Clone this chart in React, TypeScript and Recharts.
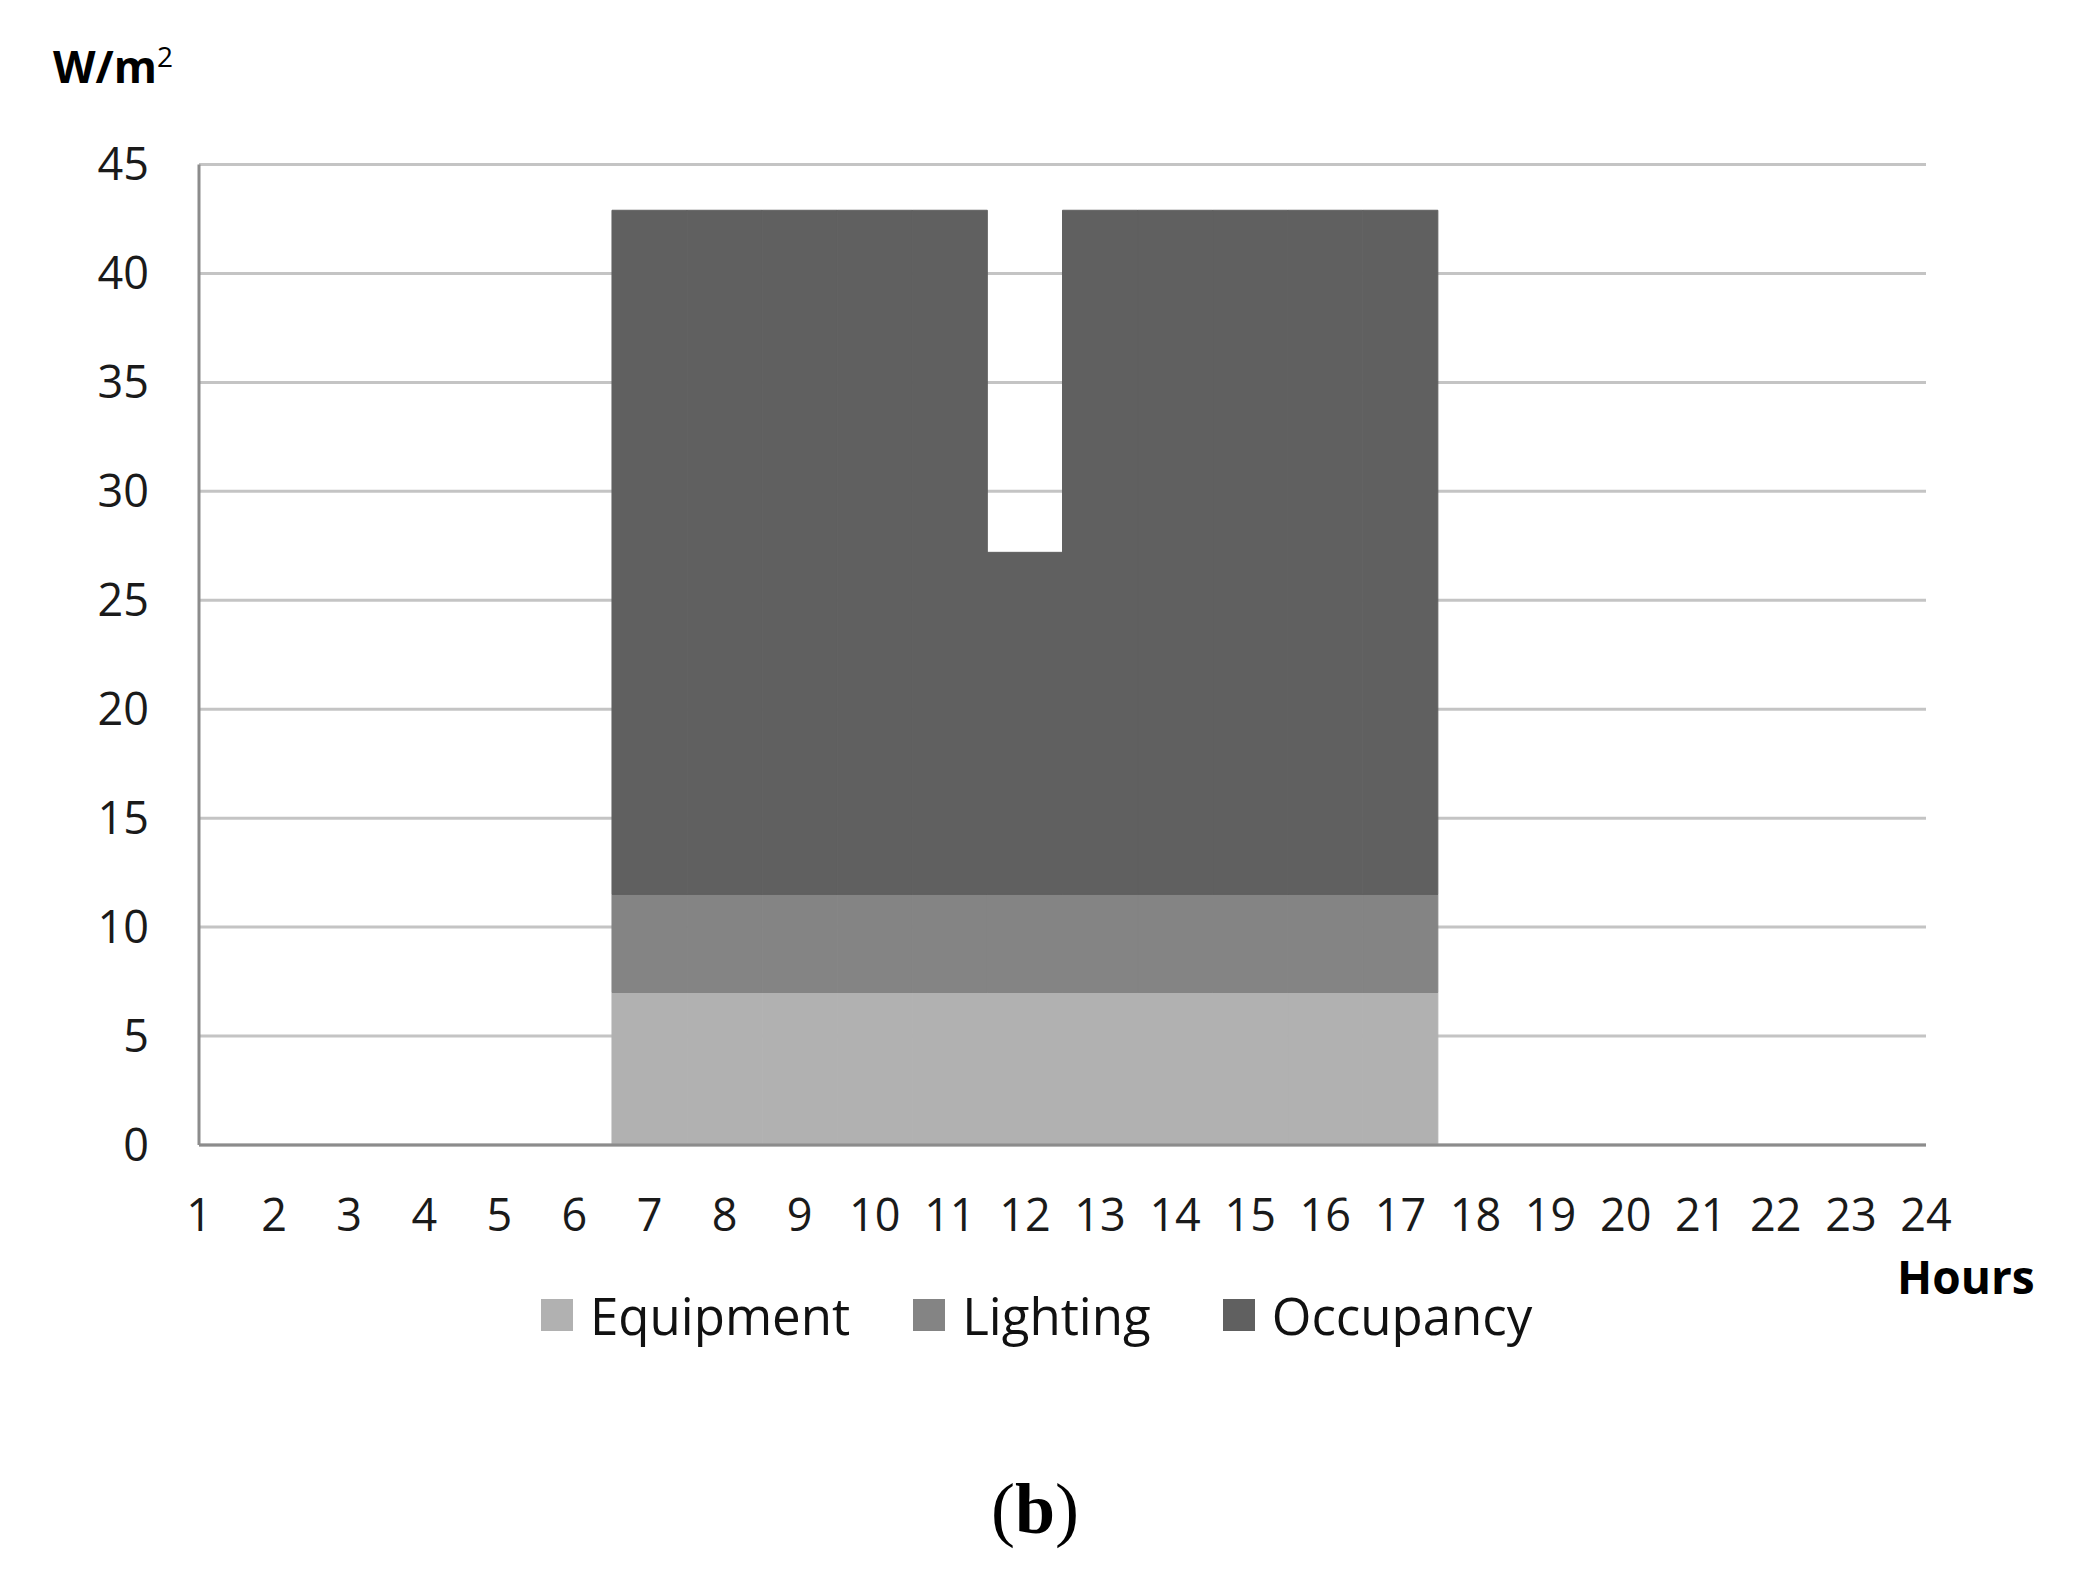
import React from 'react';
import { BarChart, Bar, XAxis, YAxis, CartesianGrid, Legend } from 'recharts';

// hourly internal gains, W/m2
const hours = [1, 2, 3, 4, 5, 6, 7, 8, 9, 10, 11, 12, 13, 14, 15, 16, 17, 18, 19, 20, 21, 22, 23, 24];
const equipment = [0, 0, 0, 0, 0, 0, 7, 7, 7, 7, 7, 7, 7, 7, 7, 7, 7, 0, 0, 0, 0, 0, 0, 0];
const lighting = [0, 0, 0, 0, 0, 0, 4.5, 4.5, 4.5, 4.5, 4.5, 4.5, 4.5, 4.5, 4.5, 4.5, 4.5, 0, 0, 0, 0, 0, 0, 0];
const occupancy = [0, 0, 0, 0, 0, 0, 31.4, 31.4, 31.4, 31.4, 31.4, 15.7, 31.4, 31.4, 31.4, 31.4, 31.4, 0, 0, 0, 0, 0, 0, 0];
const yTicks = [0, 5, 10, 15, 20, 25, 30, 35, 40, 45];

const data = hours.map((h, i) => ({
  hour: h,
  Equipment: equipment[i],
  Lighting: lighting[i],
  Occupancy: occupancy[i],
}));

const FONT = "'Open Sans', sans-serif";

const LegendContent = (props: any) => {
  const { payload } = props;
  return (
    <div style={{ display: 'flex', alignItems: 'center', fontFamily: FONT, fontSize: 51, lineHeight: '68px', color: '#111' }}>
      {payload.map((p: any, i: number) => (
        <div key={i} style={{ display: 'flex', alignItems: 'center', marginRight: i === 0 ? 63 : 72 }}>
          <span style={{ width: 32, height: 32, background: p.color, display: 'inline-block', marginRight: 17 }} />
          <span>{p.value}</span>
        </div>
      ))}
    </div>
  );
};

export default function App() {
  return (
    <div style={{ position: 'relative', width: 2064, height: 1560, background: '#fff' }}>
      <BarChart
        width={2064}
        height={1560}
        data={data}
        margin={{ top: 156.5, right: 146, bottom: 323, left: 0 }}
        barCategoryGap={0}
        barGap={0}
      >
        <CartesianGrid vertical={false} stroke="#c4c4c4" strokeWidth={3} />
        <XAxis
          dataKey="hour"
          type="number"
          domain={[1, 24]}
          ticks={hours}
          interval={0}
          height={100}
          tickLine={false}
          tickSize={0}
          tickMargin={54}
          axisLine={{ stroke: '#8c8c8c', strokeWidth: 3 }}
          tick={{ fill: '#1a1a1a', fontSize: 45, fontFamily: FONT }}
        />
        <YAxis
          type="number"
          domain={[0, 45]}
          ticks={yTicks}
          interval={0}
          width={191}
          tickLine={false}
          tickSize={0}
          tickMargin={50}
          axisLine={{ stroke: '#8c8c8c', strokeWidth: 3 }}
          tick={{ fill: '#1a1a1a', fontSize: 45, fontFamily: FONT }}
        />
        <Legend
          verticalAlign="middle"
          align="center"
          content={<LegendContent />}
          wrapperStyle={{ top: 1273, left: 533, width: 'auto' }}
        />
        <Bar dataKey="Equipment" stackId="a" fill="#b1b1b1" stroke="#b1b1b1" strokeWidth={1} isAnimationActive={false} />
        <Bar dataKey="Lighting" stackId="a" fill="#848484" stroke="#848484" strokeWidth={1} isAnimationActive={false} />
        <Bar dataKey="Occupancy" stackId="a" fill="#606060" stroke="#606060" strokeWidth={1} isAnimationActive={false} />
      </BarChart>
      <div style={{ position: 'absolute', left: 45, top: 34, fontFamily: FONT, fontWeight: 700, fontSize: 44, lineHeight: 1, color: '#000' }}>
        W/m<sup style={{ fontSize: 28, fontWeight: 400 }}>2</sup>
      </div>
      <div style={{ position: 'absolute', left: 1889, top: 1245, fontFamily: FONT, fontWeight: 700, fontSize: 46, lineHeight: 1, color: '#000' }}>
        Hours
      </div>
      <div style={{ position: 'absolute', left: 927, width: 200, top: 1465, textAlign: 'center', fontFamily: "'Liberation Serif', serif", fontSize: 72, lineHeight: 1, color: '#000' }}>
        (<b>b</b>)
      </div>
    </div>
  );
}
